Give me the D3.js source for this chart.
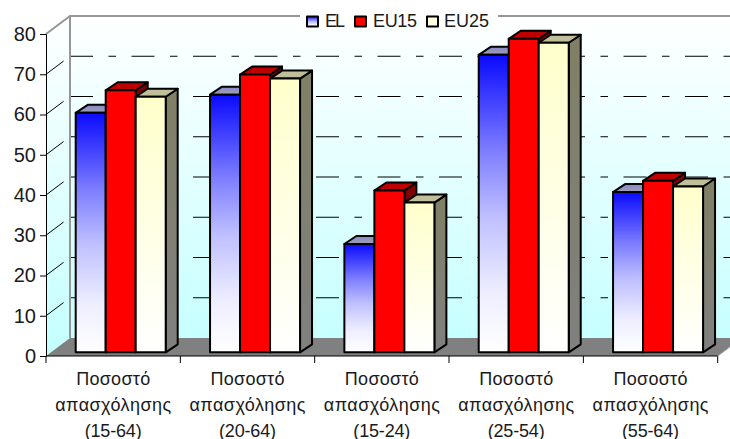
<!DOCTYPE html>
<html><head><meta charset="utf-8">
<script src="https://cdnjs.cloudflare.com/ajax/libs/d3/7.8.5/d3.min.js"></script>
<style>html,body{margin:0;padding:0;background:#fff}svg{display:block}text{font-family:"Liberation Sans",Arial,sans-serif;fill:#1a1a1a}</style>
</head><body><svg id="c" width="730" height="439"></svg>
<script>
const categories=["(15-64)","(20-64)","(15-24)","(25-54)","(55-64)"];
const seriesNames=["EL","EU15","EU25"];
const EL=[59.5,64,26.9,73.9,39.8];
const EU15=[65.1,69,40.2,77.9,42.6];
const EU25=[63.5,68,37.2,76.9,41.2];
const yTicks=[0,10,20,30,40,50,60,70,80];
const labelLine1="Ποσοστό",labelLine2="απασχόλησης";
const series=[EL,EU15,EU25];

const svg=d3.select("#c"),defs=svg.append("defs");
const y=d3.scaleLinear().domain([0,80]).range([356,34]);
const x=d3.scaleBand().domain(categories).range([46,717.7]);
const wx=24,wy=-18;
const bx=12,by=-8;
const bz={x:5,y:-3.7};
const barW=30,barOff=24.7;
const right=730;

function grad(id,stops){const g=defs.append("linearGradient").attr("id",id).attr("x1",0).attr("y1",0).attr("x2",0).attr("y2",1);
 stops.forEach(([o,c])=>g.append("stop").attr("offset",o).attr("stop-color",c));}
grad("wall",[[0,"#ffffff"],[1,"#c4ffff"]]);
grad("gEL",[[0,"#0a0aff"],[0.33,"#8080ff"],[0.55,"#c0c0ff"],[0.8,"#eeeeff"],[1,"#ffffff"]]);
grad("gEU25",[[0,"#ffffcc"],[1,"#ffffff"]]);
grad("sEL",[[0,"#000080"],[1,"#808080"]]);
grad("sEU25",[[0,"#808066"],[1,"#808080"]]);
grad("tEL",[[0,"#8888cc"],[1,"#a0a0b0"]]);
const front=["url(#gEL)","#ff0000","url(#gEU25)"];
const side=["url(#sEL)","#800000","url(#sEU25)"];
const top_=["url(#tEL)","#bf0000","#bfbf99"];

const x0=x.range()[0],x1=x.range()[1];
svg.append("path").attr("fill","url(#wall)")
 .attr("d",`M${x0},${y(0)}V${y(80)}L${x0+wx},${y(80)+wy}H${right}V${y(0)+wy}H${x0+wx}Z`);
svg.append("path").attr("fill","#808080")
 .attr("d",`M${x0},${y(0)}H${x1}L${x1+wx},${y(0)+wy}H${x0+wx}Z`);
const grid=yTicks.filter(t=>t>0&&t<80);
svg.selectAll(".gb").data(grid).join("line").attr("x1",x0+wx).attr("x2",right)
 .attr("y1",t=>y(t)+wy).attr("y2",t=>y(t)+wy).attr("stroke","#000").attr("stroke-width",1).attr("stroke-dasharray","23 15.5 7.5 15.5");
svg.selectAll(".gs").data(grid).join("line").attr("x1",x0).attr("x2",x0+wx)
 .attr("y1",t=>y(t)).attr("y2",t=>y(t)+wy).attr("stroke","#000").attr("stroke-width",1).attr("stroke-dasharray","22 20");
svg.append("path").attr("fill","none").attr("stroke","#969696").attr("stroke-width",2)
 .attr("d",`M${x0},${y(80)}L${x0+wx},${y(80)+wy}H${right}M${x0+wx},${y(80)+wy}V${y(0)+wy}`);

const zero=y(0)+bz.y;
const stroke={stroke:"#000","stroke-width":2,"stroke-linejoin":"round"};
function st(s){Object.entries(stroke).forEach(([k,v])=>s.attr(k,v));return s;}
categories.forEach((c,i)=>{
 const g=svg.append("g");
 series.forEach((vals,s)=>{
  const l=x(c)+barOff+bz.x+s*barW,r=l+barW,t=y(vals[i])+bz.y;
  st(g.append("path")).attr("fill",side[s]).attr("d",`M${r},${zero}L${r+bx},${zero+by}V${t+by}L${r},${t}Z`);
  st(g.append("path")).attr("fill",top_[s]).attr("d",`M${l},${t}L${l+bx},${t+by}H${r+bx}L${r},${t}Z`);
  st(g.append("rect")).attr("fill",front[s]).attr("x",l).attr("y",t).attr("width",barW).attr("height",zero-t);
 });
});

const yAxis=d3.axisLeft(y).tickValues(yTicks).tickSize(6).tickPadding(4);
const ya=svg.append("g").attr("transform",`translate(${x0},0)`).call(yAxis);
ya.selectAll("path,line").attr("stroke","#000").attr("stroke-width",1);
ya.selectAll("text").attr("font-size",20).style("font-family",'"Liberation Sans",Arial,sans-serif').attr("fill","#1a1a1a");
const xa=svg.append("g").attr("transform",`translate(0,${y(0)})`);
xa.append("line").attr("x1",x0).attr("x2",x1).attr("stroke","#000");
const edges=categories.map(c=>x(c)).concat([x1]);
xa.selectAll(".t").data(edges).join("line").attr("x1",d=>d).attr("x2",d=>d).attr("y1",0).attr("y2",7).attr("stroke","#000");
svg.append("path").attr("fill","none").attr("stroke","#969696").attr("stroke-width",1)
 .attr("d",`M${x1},${y(0)}L${x1+12},${y(0)-9}`);
categories.forEach(c=>{
 const cx=x(c)+x.bandwidth()/2;
 [[labelLine1,385,74],[labelLine2,411,116],[c,436.5,57]].forEach(([t,b,w])=>{
  svg.append("text").attr("x",cx).attr("y",b).attr("text-anchor","middle").attr("font-size",18)
   .attr("textLength",w).attr("lengthAdjust","spacing").text(t);
 });
});

const leg=svg.append("g");
leg.append("rect").attr("x",300).attr("y",10).attr("width",198).attr("height",14).attr("fill","#fff");
const lx=[307,355,427],tx=[325,373,444],tw=[20,44,45];
seriesNames.forEach((n,i)=>{
 st(leg.append("rect")).attr("x",lx[i]).attr("y",16.5).attr("width",11).attr("height",10).attr("fill",front[i]);
 leg.append("text").attr("x",tx[i]).attr("y",27).attr("font-size",18).attr("textLength",tw[i]).attr("lengthAdjust","spacing").text(n);
});
</script></body></html>
